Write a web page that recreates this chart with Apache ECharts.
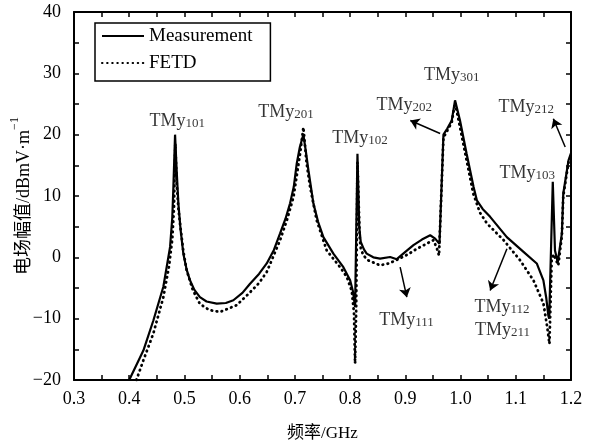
<!DOCTYPE html>
<html>
<head>
<meta charset="utf-8">
<script src="https://cdn.jsdelivr.net/npm/echarts@6/dist/echarts.min.js"></script>
<style>
  html, body { margin: 0; padding: 0; background: #fff; }
  #chart { width: 594px; height: 443px; }
</style>
</head>
<body>
<div id="chart"></div>
<script>
// Measured electric field amplitude (dBmV/m) vs frequency (GHz)
const measFreq = [0.400, 0.4256, 0.4437, 0.4618, 0.474, 0.478, 0.480, 0.483,
  0.486, 0.489, 0.493, 0.498, 0.504, 0.510, 0.518, 0.528, 0.540, 0.5585, 0.575, 0.5886,
  0.605, 0.6188, 0.635, 0.649, 0.662, 0.6732, 0.683, 0.6913, 0.698, 0.7034, 0.709,
  0.7154, 0.7195, 0.7245, 0.7335, 0.742, 0.7516, 0.7697, 0.7878, 0.800, 0.805,
  0.809, 0.8133, 0.8165, 0.8193, 0.825, 0.830, 0.842, 0.8543, 0.8725, 0.8845,
  0.900, 0.9147, 0.930, 0.945, 0.954, 0.9618, 0.969, 0.976, 0.984, 0.990, 0.999,
  1.011, 1.0235, 1.0295, 1.040, 1.0536, 1.0838, 1.114, 1.138, 1.150, 1.155, 1.159,
  1.1605, 1.167, 1.171, 1.176, 1.1835, 1.186, 1.1955, 1.200];
const measAmp = [-20, -15.2, -10.3, -4.8, 1.7, 6.5, 11.5, 20,
  14, 8.8, 4.5, 0.6, -2, -3.75, -5.3, -6.5, -7.2, -7.55, -7.45, -7.0,
  -5.8, -4.3, -2.7, -1.0, 1.2, 3.9, 6.3, 8.8, 11.5, 15.3, 18,
  20.0, 17.5, 14.2, 8.8, 5.8, 3.3, 0.6, -1.6, -3.75, -5.5,
  -8.1, 16.9, 5, 2.5, 1.3, 0.6, 0, -0.2, 0.05, -0.3,
  0.9, 2.0, 2.9, 3.6, 3.05, 2.2, 20, 21, 22.3, 25.6, 22.3,
  16.9, 11.5, 9.3, 7.9, 6.6, 3.3, 0.9, -1.0, -3.75, -6.5, -9.5,
  -10, 12.3, 1.1, -0.8, 3.9, 10.4, 15.8, 17];

// FETD simulation
const fetdFreq = [0.413, 0.4256, 0.4437, 0.4618, 0.472, 0.478, 0.481, 0.4835,
  0.486, 0.489, 0.492, 0.498, 0.504, 0.515, 0.528, 0.545, 0.5645, 0.5947, 0.6188,
  0.635, 0.649, 0.6732, 0.686, 0.6974, 0.7094, 0.7154, 0.721, 0.7275, 0.7396,
  0.7577, 0.7819, 0.794, 0.803, 0.807, 0.809, 0.811, 0.8133, 0.8175, 0.8193,
  0.824, 0.833, 0.854, 0.870, 0.885, 0.905, 0.921, 0.951, 0.957, 0.961, 0.969,
  0.984, 0.990, 0.995, 1.005, 1.023, 1.035, 1.048, 1.078, 1.108, 1.132, 1.150,
  1.157, 1.161, 1.165, 1.1685, 1.177, 1.1835, 1.186, 1.1955, 1.200];
const fetdAmp = [-20, -16.8, -12.4, -6.5, -1.5, 3, 8, 18.5,
  12, 8, 5.5, 1, -2.1, -5.3, -7.6, -8.6, -8.9, -7.8, -5.7,
  -4.2, -2.4, 2.8, 6.2, 9.8, 16.9, 21.2, 15.5, 11.5, 6,
  1.1, -1.6, -3.2, -5.5, -9, -17.3, -8.5, 15.5, 3, 1.5,
  0.3, -0.5, -1.3, -1.0, -0.4, 0.5, 1.4, 2.8, 1.5, 0.3, 19.5,
  22, 25.2, 23, 18.5, 10.4, 7.3, 5.5, 2.8, -0.5, -3.75, -7.5,
  -11.4, -14.1, -0.5, 0.5, -1.3, 3.5, 10, 15.5, 16.5];

// Mode labels: [freq, amplitude, subscript index]
const modeLabels = [
  [0.487, 22.2, '101'],
  [0.684, 23.7, '201'],
  [0.818, 19.4, '102'],
  [0.898, 24.8, '202'],
  [0.984, 29.7, '301'],
  [1.119, 24.5, '212'],
  [1.121, 13.7, '103'],
  [0.902, -10.3, '111'],
  [1.075, -8.1, '112'],
  [1.076, -11.9, '211']
];

// Arrows pointing from the curve to a label: [fromFreq, fromAmp, toFreq, toAmp]
const modeArrows = [
  [0.963, 20.2, 0.909, 22.3],
  [0.8906, -1.6, 0.9027, -6.5],
  [1.084, 1.4, 1.0536, -5.4],
  [1.1895, 18.0, 1.168, 22.6]
];

const xTicks = [0.3, 1.2, 0.1];   // min, max, step
const yTicks = [-20, 40, 10];

const FONT = "'Liberation Serif', 'Times New Roman', 'Noto Sans CJK SC', serif";

const zip = (a, b) => a.map((v, i) => [v, b[i]]);
const minus = s => String(s).replace('-', '\u2212');

const baseAxis = {
  axisLine: { show: true, onZero: false, lineStyle: { color: '#000', width: 2 } },
  axisTick: { show: true, inside: true, length: 5, lineStyle: { color: '#000', width: 1.5 } },
  minorTick: { show: true, splitNumber: 2, length: 5, lineStyle: { color: '#000', width: 1.5 } },
  splitLine: { show: false }
};

const chart = echarts.init(document.getElementById('chart'), null, { renderer: 'canvas' });

chart.setOption({
  animation: false,
  backgroundColor: '#fff',
  textStyle: { fontFamily: FONT, color: '#000' },
  grid: { left: 74, right: 23, top: 12, bottom: 63, outerBoundsMode: 'none', containLabel: false },
  legend: {
    left: 95, top: 23,
    orient: 'vertical',
    padding: [3, 18, 8, 6],
    itemGap: 7,
    itemWidth: 42, itemHeight: 14,
    borderColor: '#000', borderWidth: 1.5,
    itemStyle: { opacity: 0 },
    textStyle: { fontFamily: FONT, fontSize: 19, color: '#000', lineHeight: 20 },
    data: ['Measurement', 'FETD']
  },
  xAxis: [
    Object.assign({}, baseAxis, {
      type: 'value', position: 'bottom',
      min: xTicks[0], max: xTicks[1], interval: xTicks[2],
      name: '频率/GHz', nameLocation: 'middle', nameGap: 45, nameMoveOverlap: false,
      nameTextStyle: { fontFamily: FONT, fontSize: 17, color: '#000' },
      axisLabel: { fontFamily: FONT, fontSize: 18, color: '#000', margin: 10,
        formatter: v => v.toFixed(1) }
    }),
    Object.assign({}, baseAxis, {
      type: 'value', position: 'top',
      min: xTicks[0], max: xTicks[1], interval: xTicks[2],
      axisLabel: { show: false }
    })
  ],
  yAxis: [
    Object.assign({}, baseAxis, {
      type: 'value', position: 'left',
      min: yTicks[0], max: yTicks[1], interval: yTicks[2],
      name: '{a|电场幅值/dBmV·m}{sup|\u22121}',
      nameLocation: 'middle', nameGap: 41, nameRotate: 90, nameMoveOverlap: false,
      nameTextStyle: {
        rich: {
          a: { fontFamily: FONT, fontSize: 18, color: '#000', lineHeight: 20, verticalAlign: 'bottom' },
          sup: { fontFamily: FONT, fontSize: 12, color: '#000', lineHeight: 24, verticalAlign: 'top' }
        }
      },
      axisLabel: { fontFamily: FONT, fontSize: 18, color: '#000', margin: 13,
        formatter: v => minus(v) }
    }),
    Object.assign({}, baseAxis, {
      type: 'value', position: 'right',
      min: yTicks[0], max: yTicks[1], interval: yTicks[2],
      axisLabel: { show: false }
    })
  ],
  series: [
    {
      name: 'Measurement', type: 'line',
      data: zip(measFreq, measAmp),
      symbol: 'none', showSymbol: false,
      lineStyle: { color: '#000', width: 2.2 },
      itemStyle: { color: '#000' },
      z: 3
    },
    {
      name: 'FETD', type: 'line',
      data: zip(fetdFreq, fetdAmp),
      symbol: 'none', showSymbol: false,
      lineStyle: { color: '#000', width: 2.8, type: [0.5, 4.6], cap: 'round' },
      itemStyle: { color: '#000' },
      z: 2
    },
    {
      name: 'modes', type: 'scatter',
      data: modeLabels,
      symbolSize: 0,
      silent: true,
      label: {
        show: true, position: 'inside',
        formatter: p => '{m|TMy}{s|' + p.value[2] + '}',
        rich: {
          m: { fontFamily: FONT, fontSize: 18, color: '#000', lineHeight: 18, verticalAlign: 'bottom' },
          s: { fontFamily: FONT, fontSize: 13, color: '#000', lineHeight: 9, verticalAlign: 'bottom' }
        }
      },
      markLine: {
        silent: true,
        symbol: ['none', 'arrow'],
        symbolSize: 9,
        label: { show: false },
        lineStyle: { color: '#000', width: 1.5, type: 'solid' },
        data: modeArrows.map(a => [{ coord: [a[0], a[1]] }, { coord: [a[2], a[3]] }])
      }
    }
  ]
});
</script>
</body>
</html>
